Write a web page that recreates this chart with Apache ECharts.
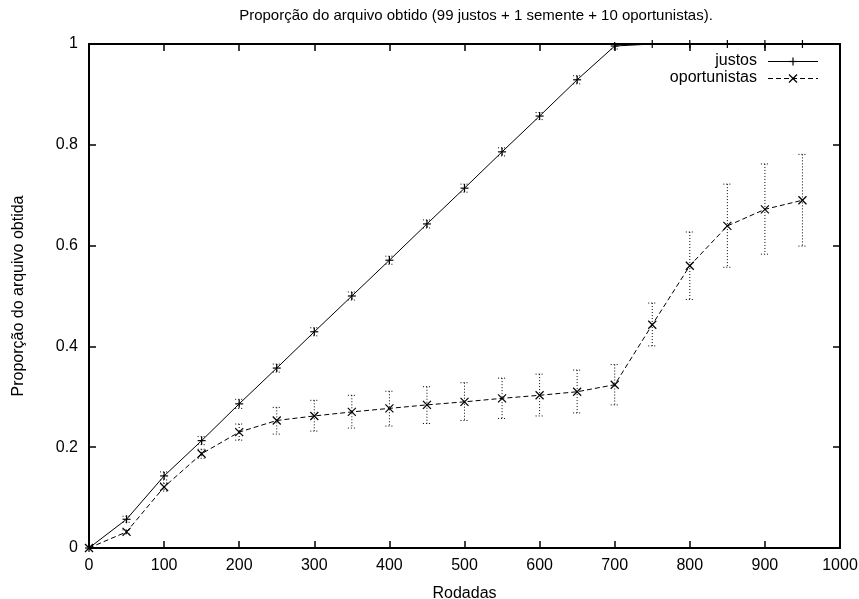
<!DOCTYPE html>
<html>
<head>
<meta charset="utf-8">
<script src="https://cdn.jsdelivr.net/npm/echarts@6/dist/echarts.min.js"></script>
<style>
  html, body { margin: 0; padding: 0; background: #fff; }
  #chart { width: 859px; height: 599px; }
</style>
</head>
<body>
<div id="chart"></div>
<script>
// Rodadas (x) e proporção média com intervalo de erro (min, max)
var rodadas = [0, 50, 100, 150, 200, 250, 300, 350, 400, 450, 500, 550, 600, 650, 700, 750, 800, 850, 900, 950];

var justos      = [0, 0.057, 0.143, 0.213, 0.286, 0.357, 0.429, 0.500, 0.571, 0.643, 0.714, 0.786, 0.857, 0.929, 0.996, 1.0, 1.0, 1.0, 1.0, 1.0];
var justosMin   = [0, 0.051, 0.135, 0.205, 0.277, 0.349, 0.421, 0.492, 0.563, 0.635, 0.706, 0.778, 0.850, 0.921, 0.990, 1.0, 1.0, 1.0, 1.0, 1.0];
var justosMax   = [0, 0.063, 0.151, 0.221, 0.295, 0.365, 0.437, 0.508, 0.579, 0.651, 0.722, 0.794, 0.864, 0.937, 1.0, 1.0, 1.0, 1.0, 1.0, 1.0];

var oport       = [0, 0.032, 0.121, 0.187, 0.230, 0.253, 0.262, 0.270, 0.277, 0.284, 0.290, 0.297, 0.303, 0.310, 0.324, 0.443, 0.560, 0.639, 0.672, 0.690];
var oportMin    = [0, 0.028, 0.113, 0.178, 0.214, 0.226, 0.232, 0.238, 0.242, 0.247, 0.253, 0.257, 0.262, 0.268, 0.284, 0.401, 0.493, 0.557, 0.583, 0.599];
var oportMax    = [0, 0.036, 0.129, 0.196, 0.246, 0.279, 0.293, 0.303, 0.311, 0.320, 0.328, 0.337, 0.345, 0.353, 0.364, 0.486, 0.627, 0.722, 0.762, 0.781];

var xTicks = [0, 100, 200, 300, 400, 500, 600, 700, 800, 900, 1000];
var yTicks = [0, 0.2, 0.4, 0.6, 0.8, 1];

var FONT = '"Liberation Sans", Arial, Helvetica, sans-serif';

function pairs(xs, ys) { return xs.map(function (x, i) { return [x, ys[i]]; }); }
function rows(xs, ys, lo, hi) { return xs.map(function (x, i) { return [x, ys[i], lo[i], hi[i]]; }); }

var dotted = { stroke: '#000', lineWidth: 1, lineDash: [1, 2] };

// barras de erro pontilhadas + marcador (+ ou x)
function errRenderer(kind) {
  return function (params, api) {
    var x = api.value(0), y = api.value(1), lo = api.value(2), hi = api.value(3);
    var p = api.coord([x, y]);
    var pl = api.coord([x, lo]);
    var ph = api.coord([x, hi]);
    var cap = 4;
    var children = [];
    if (Math.abs(pl[1] - ph[1]) > 0.5) {
      children.push({ type: 'line', shape: { x1: p[0], y1: ph[1], x2: p[0], y2: pl[1] }, style: dotted, silent: true });
      children.push({ type: 'line', shape: { x1: p[0] - cap, y1: ph[1], x2: p[0] + cap, y2: ph[1] }, style: dotted, silent: true });
      children.push({ type: 'line', shape: { x1: p[0] - cap, y1: pl[1], x2: p[0] + cap, y2: pl[1] }, style: dotted, silent: true });
    }
    var m = { stroke: '#000', lineWidth: 1.2 };
    if (kind === 'plus') {
      var s = 4;
      children.push({ type: 'line', shape: { x1: p[0] - s, y1: p[1], x2: p[0] + s, y2: p[1] }, style: m });
      children.push({ type: 'line', shape: { x1: p[0], y1: p[1] - s, x2: p[0], y2: p[1] + s }, style: m });
    } else {
      var d = 4;
      children.push({ type: 'line', shape: { x1: p[0] - d, y1: p[1] - d, x2: p[0] + d, y2: p[1] + d }, style: m });
      children.push({ type: 'line', shape: { x1: p[0] - d, y1: p[1] + d, x2: p[0] + d, y2: p[1] - d }, style: m });
    }
    return { type: 'group', children: children };
  };
}

var chart = echarts.init(document.getElementById('chart'), null, { renderer: 'canvas' });

var axisLine = { show: true, onZero: false, lineStyle: { color: '#000', width: 2 } };
var axisTick = { show: true, inside: true, length: 7, lineStyle: { color: '#000', width: 1.5 } };
var labelStyle = { color: '#000', fontFamily: FONT, fontSize: 16 };
var nameStyle = { color: '#000', fontFamily: FONT, fontSize: 16 };

var option = {
  backgroundColor: '#fff',
  animation: false,
  title: {
    text: 'Proporção do arquivo obtido (99 justos + 1 semente + 10 oportunistas).',
    left: 471, top: 3, textAlign: 'center',
    textStyle: { color: '#000', fontFamily: FONT, fontSize: 15, fontWeight: 'normal' }
  },
  grid: { left: 89, right: 19, top: 44, bottom: 51, show: false, containLabel: false, outerBoundsMode: 'none' },
  xAxis: [{
    type: 'value', min: 0, max: 1000, interval: 100, position: 'bottom',
    axisLine: axisLine, axisTick: axisTick,
    axisLabel: Object.assign({ margin: 10, formatter: function (v) { return String(v); } }, labelStyle),
    splitLine: { show: false },
    name: 'Rodadas', nameLocation: 'middle', nameGap: 38, nameTextStyle: nameStyle
  }, {
    type: 'value', min: 0, max: 1000, interval: 100, position: 'top',
    axisLine: axisLine, axisTick: axisTick, axisLabel: { show: false }, splitLine: { show: false }
  }],
  yAxis: [{
    type: 'value', min: 0, max: 1, interval: 0.2, position: 'left',
    axisLine: axisLine, axisTick: axisTick,
    axisLabel: Object.assign({ margin: 11, formatter: function (v) { return String(+v.toFixed(1)); } }, labelStyle),
    splitLine: { show: false },
    name: 'Proporção do arquivo obtida', nameLocation: 'middle', nameGap: 62, nameRotate: 90,
    nameTextStyle: nameStyle
  }, {
    type: 'value', min: 0, max: 1, interval: 0.2, position: 'right',
    axisLine: axisLine, axisTick: axisTick, axisLabel: { show: false }, splitLine: { show: false }
  }],
  graphic: [
    { type: 'text', x: 757, y: 61, style: { text: 'justos', fill: '#000', font: '16px ' + FONT, textAlign: 'right', textVerticalAlign: 'middle' } },
    { type: 'line', shape: { x1: 768, y1: 61.5, x2: 818, y2: 61.5 }, style: { stroke: '#000', lineWidth: 1 } },
    { type: 'line', shape: { x1: 789, y1: 61.5, x2: 797, y2: 61.5 }, style: { stroke: '#000', lineWidth: 1.2 } },
    { type: 'line', shape: { x1: 793, y1: 57.5, x2: 793, y2: 65.5 }, style: { stroke: '#000', lineWidth: 1.2 } },
    { type: 'text', x: 757, y: 78, style: { text: 'oportunistas', fill: '#000', font: '16px ' + FONT, textAlign: 'right', textVerticalAlign: 'middle' } },
    { type: 'line', shape: { x1: 768, y1: 78.5, x2: 818, y2: 78.5 }, style: { stroke: '#000', lineWidth: 1, lineDash: [5, 3] } },
    { type: 'line', shape: { x1: 789, y1: 74.5, x2: 797, y2: 82.5 }, style: { stroke: '#000', lineWidth: 1.2 } },
    { type: 'line', shape: { x1: 789, y1: 82.5, x2: 797, y2: 74.5 }, style: { stroke: '#000', lineWidth: 1.2 } }
  ],
  series: [
    {
      name: 'justos', type: 'line', data: pairs(rodadas, justos), showSymbol: false,
      lineStyle: { color: '#000', width: 1 }, z: 3
    },
    {
      name: 'oportunistas', type: 'line', data: pairs(rodadas, oport), showSymbol: false,
      lineStyle: { color: '#000', width: 1, type: [5, 3] }, z: 3
    },
    {
      name: 'justos-err', type: 'custom', renderItem: errRenderer('plus'),
      data: rows(rodadas, justos, justosMin, justosMax), encode: { x: 0, y: 1 }, z: 4, clip: false
    },
    {
      name: 'oport-err', type: 'custom', renderItem: errRenderer('cross'),
      data: rows(rodadas, oport, oportMin, oportMax), encode: { x: 0, y: 1 }, z: 4, clip: false
    }
  ]
};

chart.setOption(option);
</script>
</body>
</html>
